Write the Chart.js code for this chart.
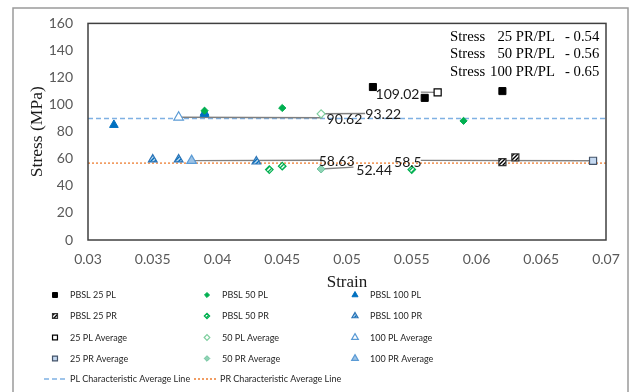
<!DOCTYPE html>
<html>
<head>
<meta charset="utf-8">
<script src="https://cdn.jsdelivr.net/npm/chart.js@4.4.0/dist/chart.umd.min.js"></script>
<style>
    html, body { margin: 0; padding: 0; background: #fff; }
    canvas { display: block; }
</style>
</head>
<body>
<canvas id="stressChart" width="631" height="392"></canvas>
<script>
// --- axis ticks ---
const strainTicks = [0.03, 0.035, 0.04, 0.045, 0.05, 0.055, 0.06, 0.065, 0.07];
const stressTicks = [0, 20, 40, 60, 80, 100, 120, 140, 160];

// --- single specimens (PL) ---
const pl25Strain = [0.052, 0.056, 0.062];
const pl25Stress = [113, 105, 110];
const pl50Strain = [0.039, 0.045, 0.059];
const pl50Stress = [95.5, 97.5, 88];
const pl100Strain = [0.032, 0.039, 0.039];
const pl100Stress = [85, 93, 94];

// --- single specimens (PR) ---
const pr25Strain = [0.062, 0.063];
const pr25Stress = [57.5, 61];
const pr50Strain = [0.044, 0.045, 0.055];
const pr50Stress = [52, 54.5, 52];
const pr100Strain = [0.035, 0.037, 0.043];
const pr100Stress = [59.5, 59.5, 58];

// --- averages: 25, 50, 100 ---
const plAvgStrain = [0.057, 0.048, 0.037];
const plAvgStress = [109.02, 93.22, 90.62];
const prAvgStrain = [0.069, 0.048, 0.038];
const prAvgStress = [58.5, 52.44, 58.63];

// --- characteristic average lines ---
const plCharStress = 89.8;
const prCharStress = 56.8;

// --- ratio notes ---
const ratioNames = ['25 PR/PL', '50 PR/PL', '100 PR/PL'];
const ratioValues = ['0.54', '0.56', '0.65'];

// where the label leader lines end (strain, stress), and label centres
const plLeaderTo = [[0.0557, 109.2], [0.0514, 93.4], [0.0481, 90.3]];
const prLeaderTo = [[0.0557, 58.8], [0.0505, 53.8], [0.0481, 58.9]];
const plLabelAt = [[0.0539, 107.4], [0.0528, 92.4], [0.0498, 89.0]];
const prLabelAt = [[0.0547, 57.6], [0.0521, 51.6], [0.0492, 57.7]];

const pts = (xs, ys) => xs.map((x, i) => ({ x: x, y: ys[i] }));

const canvas = document.getElementById('stressChart');
const ctx = canvas.getContext('2d');

// pola arsir untuk marker PR
function hatch(fg, bg) {
    const c = document.createElement('canvas');
    c.width = 4; c.height = 4;
    const g = c.getContext('2d');
    g.fillStyle = bg;
    g.fillRect(0, 0, 4, 4);
    g.strokeStyle = fg;
    g.lineWidth = 1.4;
    g.beginPath();
    g.moveTo(0, 4); g.lineTo(4, 0);
    g.moveTo(-1, 1); g.lineTo(1, -1);
    g.moveTo(3, 5); g.lineTo(5, 3);
    g.stroke();
    return ctx.createPattern(c, 'repeat');
}

function scatterSet(label, data, style, slot) {
    return Object.assign({
        type: 'scatter',
        label: label,
        data: data,
        borderWidth: 1,
        order: 1,
        legendSlot: slot
    }, style);
}

const datasets = [
    scatterSet('PBSL 25 PL', pts(pl25Strain, pl25Stress), { pointStyle: 'rect', pointRadius: 5, backgroundColor: '#000', borderColor: '#000' }, 0),
    scatterSet('PBSL 50 PL', pts(pl50Strain, pl50Stress), { pointStyle: 'rectRot', pointRadius: 3.6, backgroundColor: '#00b050', borderColor: '#00b050' }, 1),
    scatterSet('PBSL 100 PL', pts(pl100Strain, pl100Stress), { pointStyle: 'triangle', pointRadius: 5, backgroundColor: '#0070c0', borderColor: '#0070c0' }, 2),
    scatterSet('PBSL 25 PR', pts(pr25Strain, pr25Stress), { pointStyle: 'rect', pointRadius: 5, backgroundColor: hatch('#000', '#fff'), borderColor: '#333', borderWidth: 1.2 }, 3),
    scatterSet('PBSL 50 PR', pts(pr50Strain, pr50Stress), { pointStyle: 'rectRot', pointRadius: 3.8, backgroundColor: hatch('#00b050', '#fff'), borderColor: '#00b050', borderWidth: 1.2 }, 4),
    scatterSet('PBSL 100 PR', pts(pr100Strain, pr100Stress), { pointStyle: 'triangle', pointRadius: 5, backgroundColor: hatch('#0070c0', '#bdd7ee'), borderColor: '#2e75b6', borderWidth: 1.2 }, 5),
    scatterSet('25 PL Average', pts(plAvgStrain.slice(0, 1), plAvgStress.slice(0, 1)), { pointStyle: 'rect', pointRadius: 5, backgroundColor: '#fff', borderColor: '#000', borderWidth: 1.2 }, 6),
    scatterSet('50 PL Average', pts(plAvgStrain.slice(1, 2), plAvgStress.slice(1, 2)), { pointStyle: 'rectRot', pointRadius: 4, backgroundColor: '#fff', borderColor: '#7fcf9f', borderWidth: 1.2 }, 7),
    scatterSet('100 PL Average', pts(plAvgStrain.slice(2, 3), plAvgStress.slice(2, 3)), { pointStyle: 'triangle', pointRadius: 5.5, backgroundColor: '#fff', borderColor: '#5b9bd5', borderWidth: 1.2 }, 8),
    scatterSet('25 PR Average', pts(prAvgStrain.slice(0, 1), prAvgStress.slice(0, 1)), { pointStyle: 'rect', pointRadius: 5, backgroundColor: '#c5d9f1', borderColor: '#44546a', borderWidth: 1.2 }, 9),
    scatterSet('50 PR Average', pts(prAvgStrain.slice(1, 2), prAvgStress.slice(1, 2)), { pointStyle: 'rectRot', pointRadius: 4, backgroundColor: '#8fd3b5', borderColor: '#70c49e', borderWidth: 1 }, 10),
    scatterSet('100 PR Average', pts(prAvgStrain.slice(2, 3), prAvgStress.slice(2, 3)), { pointStyle: 'triangle', pointRadius: 5.5, backgroundColor: '#9dc3e6', borderColor: '#5b9bd5', borderWidth: 1.2 }, 11),
    {
        type: 'line', label: 'PL Characteristic Average Line',
        data: [{ x: strainTicks[0], y: plCharStress }, { x: strainTicks[strainTicks.length - 1], y: plCharStress }],
        borderColor: '#7fb1e3', borderWidth: 1.5, borderDash: [5, 3], pointRadius: 0, order: 10, legendLine: 0
    },
    {
        type: 'line', label: 'PR Characteristic Average Line',
        data: [{ x: strainTicks[0], y: prCharStress }, { x: strainTicks[strainTicks.length - 1], y: prCharStress }],
        borderColor: '#ed7d31', borderWidth: 1.3, borderDash: [2, 2], pointRadius: 0, order: 10, legendLine: 1
    }
];

// garis penunjuk label rata-rata
[[plAvgStrain, plAvgStress, plLeaderTo], [prAvgStrain, prAvgStress, prLeaderTo]].forEach(([xs, ys, to]) => {
    xs.forEach((x, i) => {
        datasets.push({
            type: 'line', label: '',
            data: [{ x: x, y: ys[i] }, { x: to[i][0], y: to[i][1] }],
            borderColor: '#808080', borderWidth: 1.4, pointRadius: 0, order: 5
        });
    });
});

// teks legenda dipersempit supaya lebarnya mirip Calibri
function legendText(c, text, x, y) {
    c.save();
    c.translate(x, y);
    c.scale(0.9, 1);
    c.fillText(text, 0, 0);
    c.restore();
}

const framePlugin = {
    id: 'frame',
    beforeDraw(chart) {
        const c = chart.ctx;
        c.save();
        c.fillStyle = '#fff';
        c.fillRect(0, 0, chart.width, chart.height);
        c.strokeStyle = '#9a9a9a';
        c.lineWidth = 1.5;
        c.strokeRect(13, 8, 615, 400);
        c.restore();
    },
    afterDatasetsDraw(chart) {
        const c = chart.ctx;
        const a = chart.chartArea;
        const xs = chart.scales.x, ys = chart.scales.y;
        c.save();
        c.strokeStyle = '#404040';
        c.lineWidth = 1.5;
        c.strokeRect(a.left, a.top, a.right - a.left, a.bottom - a.top);

        // data labels for averages
        c.fillStyle = '#1a1a1a';
        c.font = '14px Lato';
        c.textAlign = 'center';
        c.textBaseline = 'middle';
        plAvgStress.forEach((v, i) => c.fillText(String(v), xs.getPixelForValue(plLabelAt[i][0]), ys.getPixelForValue(plLabelAt[i][1])));
        prAvgStress.forEach((v, i) => c.fillText(String(v), xs.getPixelForValue(prLabelAt[i][0]), ys.getPixelForValue(prLabelAt[i][1])));

        // ratio notes
        c.font = '14.7px "Liberation Serif"';
        c.fillStyle = '#000';
        ratioNames.forEach((n, i) => {
            const y = 37 + i * 17.5;
            c.textAlign = 'left';
            c.fillText('Stress', 450, y);
            c.textAlign = 'right';
            c.fillText(n, 555, y);
            c.textAlign = 'left';
            c.fillText('- ' + ratioValues[i], 565, y);
        });
        c.restore();
    },
    afterDraw(chart) {
        // legenda di bawah, 3 kolom
        const c = chart.ctx;
        const colX = [55, 207, 355];
        const rowY = [295, 316, 337.5, 358.5];
        c.save();
        c.font = '10px Lato';
        c.textBaseline = 'middle';
        c.textAlign = 'left';
        chart.data.datasets.forEach(ds => {
            if (ds.legendSlot !== undefined) {
                const x = colX[ds.legendSlot % 3];
                const y = rowY[Math.floor(ds.legendSlot / 3)];
                c.fillStyle = ds.backgroundColor;
                c.strokeStyle = ds.borderColor;
                c.lineWidth = ds.borderWidth;
                Chart.helpers.drawPoint(c, { pointStyle: ds.pointStyle, radius: ds.pointRadius * 0.7, rotation: 0, borderWidth: ds.borderWidth }, x, y);
                c.fillStyle = '#262626';
                legendText(c, ds.label, x + 15, y);
            }
            if (ds.legendLine !== undefined) {
                const x0 = [44, 194][ds.legendLine];
                const y = 379;
                c.strokeStyle = ds.borderColor;
                c.lineWidth = ds.borderWidth;
                c.setLineDash(ds.borderDash);
                c.beginPath();
                c.moveTo(x0, y);
                c.lineTo(x0 + 24, y);
                c.stroke();
                c.setLineDash([]);
                c.fillStyle = '#262626';
                legendText(c, ds.label, x0 + 26, y);
            }
        });
        c.restore();
    }
};

new Chart(ctx, {
    data: { datasets: datasets },
    options: {
        responsive: false,
        animation: false,
        devicePixelRatio: 1,
        layout: { padding: { left: 13, top: 23, right: 25, bottom: 98 } },
        scales: {
            x: {
                type: 'linear',
                min: strainTicks[0],
                max: strainTicks[strainTicks.length - 1],
                afterBuildTicks: s => { s.ticks = strainTicks.map(v => ({ value: v })); },
                afterFit: s => { s.height = 54; },
                grid: { display: false, drawTicks: false },
                border: { display: false },
                ticks: { color: '#595959', font: { family: 'Lato', size: 14 }, padding: 11, callback: v => String(v) },
                title: { display: true, text: 'Strain', color: '#1a1a1a', font: { family: 'Liberation Serif', size: 17 }, padding: { top: 0, bottom: 1 } }
            },
            y: {
                type: 'linear',
                min: stressTicks[0],
                max: stressTicks[stressTicks.length - 1],
                afterBuildTicks: s => { s.ticks = stressTicks.map(v => ({ value: v })); },
                afterFit: s => { s.width = 75; },
                grid: { display: false, drawTicks: false },
                border: { display: false },
                ticks: { color: '#595959', font: { family: 'Lato', size: 14 }, padding: 15 },
                title: { display: true, text: 'Stress (MPa)', color: '#1a1a1a', font: { family: 'Liberation Serif', size: 17.5 }, padding: { top: 14, bottom: 0 } }
            }
        },
        plugins: {
            legend: { display: false },
            tooltip: { enabled: false }
        }
    },
    plugins: [framePlugin]
});
</script>
</body>
</html>
